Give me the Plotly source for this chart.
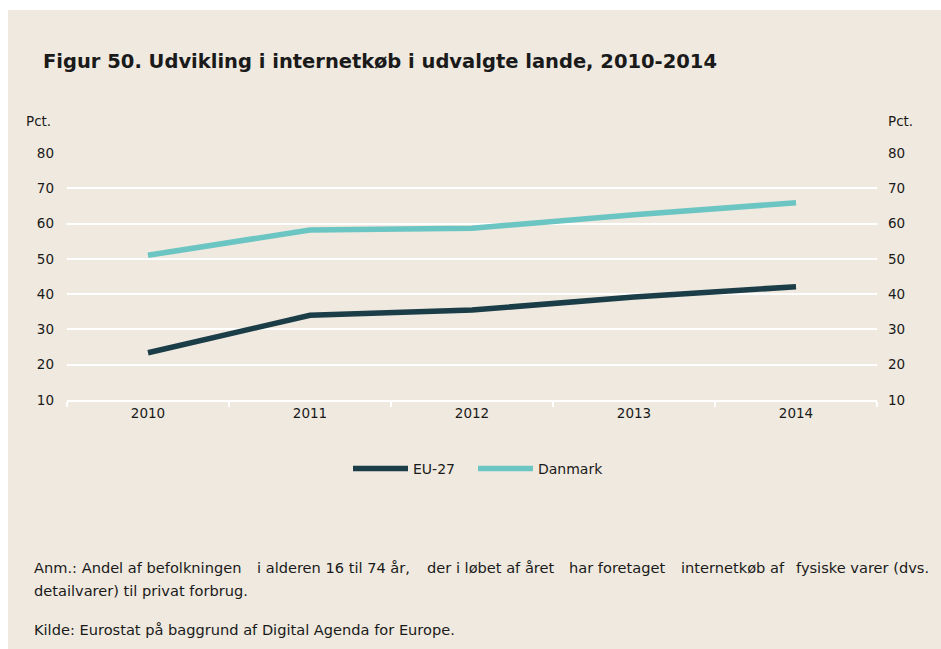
import plotly.graph_objects as go

# Data: share of population (16-74 yrs) buying physical goods online, pct.
years = ["2010", "2011", "2012", "2013", "2014"]
eu27 = [23.4, 34.0, 35.5, 39.2, 42.1]
danmark = [51.0, 58.2, 58.7, 62.5, 65.9]
y_ticks = [10, 20, 30, 40, 50, 60, 70, 80]

BG = "#EFE9DF"
DARK = "#1B3D47"
TEAL = "#6BC5C2"
FONT = "DejaVu Sans, sans-serif"
TXT = "#1a1a1a"

W, H = 941, 649
L, R, T, B = 67, 64, 153, 249
PW, PH = W - L - R, H - T - B


def px(x):
    return (x - L) / PW


def py(y):
    return (H - B - y) / PH


fig = go.Figure()
fig.add_trace(go.Scatter(x=years, y=eu27, name="EU-27", mode="lines", legend="legend",
                         line=dict(color=DARK, width=5.5)))
fig.add_trace(go.Scatter(x=years, y=danmark, name="Danmark", mode="lines", legend="legend2",
                         line=dict(color=TEAL, width=5.5)))
# invisible copy on the right-hand axis so that axis gets drawn
fig.add_trace(go.Scatter(x=years, y=danmark, yaxis="y2", mode="lines",
                         line=dict(color="rgba(0,0,0,0)"), showlegend=False,
                         hoverinfo="skip"))

TS = 13.5
NS = 14.6
leg = dict(orientation="h", y=py(469), xanchor="left", yanchor="middle",
           font=dict(size=14, color=TXT), itemwidth=55, bgcolor="rgba(0,0,0,0)")
fig.update_layout(
    width=W, height=H,
    margin=dict(l=L, r=R, t=T, b=B),
    paper_bgcolor=BG, plot_bgcolor=BG,
    font=dict(family=FONT, size=TS, color=TXT),
    showlegend=True,
    legend=dict(leg, x=px(348)),
    legend2=dict(leg, x=px(473)),
    xaxis=dict(type="category", range=[-0.5, 4.5], showgrid=False, zeroline=False,
               showline=True, linecolor="white", linewidth=2,
               ticks="outside", tickson="boundaries", ticklen=5, tickcolor="white",
               tickwidth=2, tickfont=dict(size=TS, color=TXT)),
    yaxis=dict(range=[10, 80], tickvals=y_ticks, showgrid=True, gridcolor="white",
               gridwidth=2, zeroline=False, showline=False, ticks="",
               ticklabelstandoff=12, tickfont=dict(size=TS, color=TXT)),
    yaxis2=dict(range=[10, 80], tickvals=y_ticks, overlaying="y", side="right",
                anchor="x", showgrid=False, zeroline=False, showline=False, ticks="",
                ticklabelstandoff=10, tickfont=dict(size=TS, color=TXT)),
)

# white strip along top and left edge of the page
fig.add_shape(type="rect", xref="paper", yref="paper", x0=px(-5), x1=px(W + 5),
              y0=py(10), y1=py(-5), fillcolor="white", line_width=0, layer="below")
fig.add_shape(type="rect", xref="paper", yref="paper", x0=px(-5), x1=px(8),
              y0=py(H + 5), y1=py(-5), fillcolor="white", line_width=0, layer="below")

ann = [
    dict(text="<b>Figur 50. Udvikling i internetkøb i udvalgte lande, 2010-2014</b>",
         x=px(41), y=py(61), xanchor="left", yanchor="middle", font=dict(size=19.5)),
    dict(text="Pct.", x=px(53), y=py(121), xanchor="right", yanchor="middle",
         font=dict(size=TS)),
    dict(text="Pct.", x=px(886), y=py(121), xanchor="left", yanchor="middle",
         font=dict(size=TS)),
    dict(text="detailvarer) til privat forbrug.",
         x=px(32), y=py(590), xanchor="left", yanchor="middle", font=dict(size=NS)),
    dict(text="Kilde: Eurostat på baggrund af Digital Agenda for Europe.",
         x=px(32), y=py(629), xanchor="left", yanchor="middle", font=dict(size=NS)),
]

# first note line is justified across the full text width: set in word groups
note_parts = [
    ("Anm.: Andel af befolkningen", 32, "left"),
    ("i alderen 16 til 74 år,", 255, "left"),
    ("der i løbet af året", 425, "left"),
    ("har foretaget", 567, "left"),
    ("internetkøb af", 679, "left"),
    ("fysiske varer (dvs.", 931, "right"),
]
for txt, xpos, anchor in note_parts:
    ann.append(dict(text=txt, x=px(xpos), y=py(567), xanchor=anchor, yanchor="middle",
                    font=dict(size=NS)))

for a in ann:
    a.update(xref="paper", yref="paper", showarrow=False)
    fig.add_annotation(**a)

fig.write_html("out.html")
